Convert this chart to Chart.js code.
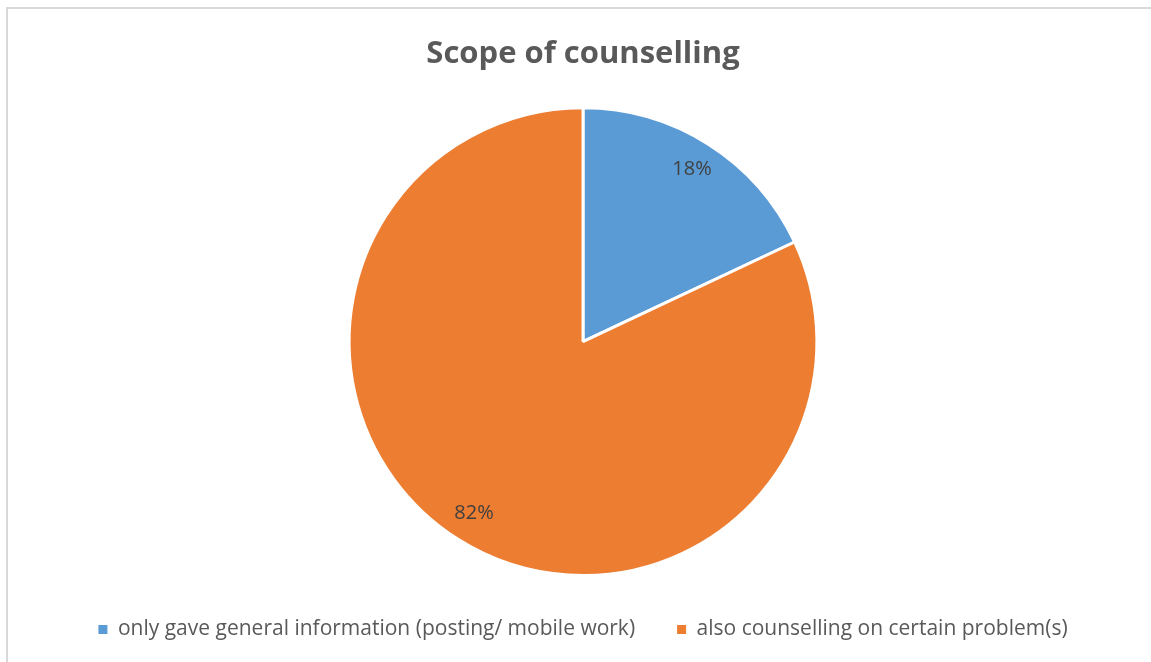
<!DOCTYPE html>
<html>
<head>
<meta charset="utf-8">
<script src="https://cdn.jsdelivr.net/npm/chart.js@4"></script>
<style>
  html, body { margin: 0; padding: 0; background: #fff; }
  #wrap { position: relative; width: 1151px; height: 662px; overflow: hidden; }
  #frame { position: absolute; left: 6px; top: 7px; width: 1200px; height: 700px; border: 2px solid #d9d9d9; box-sizing: border-box; }
  canvas { position: absolute; left: 0; top: 0; }
</style>
</head>
<body>
<div id="wrap">
  <div id="frame"></div>
  <canvas id="chart" width="1151" height="662"></canvas>
</div>
<script>
const categories = [
  "only gave general information (posting/ mobile work)",
  "also counselling on certain problem(s)"
];
const shares = [18, 82];
const sliceColors = ["#5B9BD5", "#ED7D31"];

// percentage text placed inside each slice
const sliceLabels = {
  id: "sliceLabels",
  afterDatasetsDraw(chart) {
    const ctx = chart.ctx;
    const total = shares.reduce((a, b) => a + b, 0);
    chart.getDatasetMeta(0).data.forEach((arc, i) => {
      const p = arc.getProps(["x", "y", "startAngle", "endAngle", "outerRadius"], true);
      const mid = (p.startAngle + p.endAngle) / 2;
      const r = p.outerRadius * 0.87;
      ctx.save();
      ctx.font = "20px 'Open Sans', sans-serif";
      ctx.fillStyle = "#404040";
      ctx.textAlign = "center";
      ctx.textBaseline = "middle";
      ctx.fillText(Math.round(shares[i] / total * 100) + "%", p.x + Math.cos(mid) * r, p.y + Math.sin(mid) * r);
      ctx.restore();
    });
  }
};

new Chart(document.getElementById("chart"), {
  type: "pie",
  data: {
    labels: categories,
    datasets: [{
      data: shares,
      backgroundColor: sliceColors,
      borderColor: "#ffffff",
      borderWidth: 3
    }]
  },
  options: {
    responsive: false,
    animation: false,
    layout: { padding: { left: 15, right: 0, top: 36, bottom: 12 } },
    plugins: {
      title: {
        display: true,
        text: "Scope of counselling",
        color: "#595959",
        font: { family: "'Open Sans', sans-serif", size: 31, weight: "bold" },
        padding: { top: 0, bottom: 33 }
      },
      legend: {
        position: "bottom",
        labels: {
          color: "#595959",
          font: { family: "'Open Sans', sans-serif", size: 21 },
          usePointStyle: true,
          pointStyle: "rect",
          boxWidth: 9,
          boxHeight: 9,
          padding: 42,
          // solid squares, without the slice border
          generateLabels(chart) {
            return Chart.overrides.pie.plugins.legend.labels.generateLabels(chart)
              .map(item => Object.assign(item, { lineWidth: 0, strokeStyle: item.fillStyle }));
          }
        }
      },
      tooltip: { enabled: false }
    }
  },
  plugins: [sliceLabels]
});
</script>
</body>
</html>
